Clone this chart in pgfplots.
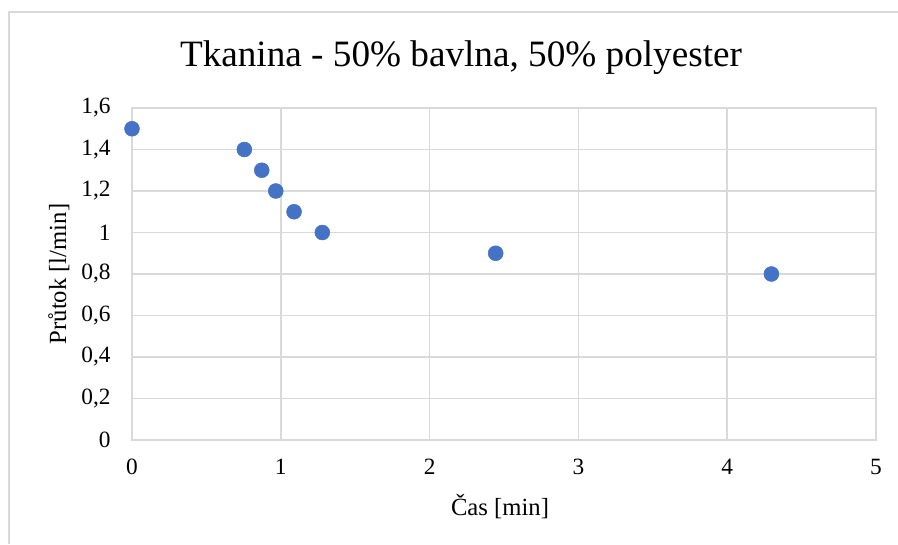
\documentclass[border=0pt]{standalone}
\usepackage{fontspec}
\setmainfont{Liberation Serif}
\usepackage{pgfplots}
\pgfplotsset{compat=1.18}
\definecolor{gridc}{RGB}{217,217,217}
\definecolor{ptc}{RGB}{68,114,196}
\begin{document}
\begin{tikzpicture}[x=1pt,y=1pt]
\path[use as bounding box] (0,0) rectangle (673.5,408);
\draw[gridc, line width=1.2pt] (6.75,0) -- (6.75,399) -- (673.5,399);
\begin{axis}[
  at={(99pt,78pt)}, anchor=south west,
  scale only axis, width=558pt, height=249pt,
  xmin=0, xmax=5, ymin=0, ymax=1.6,
  xtick={0,1,2,3,4,5}, ytick={0,0.2,0.4,0.6,0.8,1,1.2,1.4,1.6},
  grid=major, major grid style={gridc, line width=1.2pt},
  axis line style={gridc, line width=1.2pt},
  tick style={draw=none},
  /pgf/number format/assume math mode=true,
  /pgf/number format/use comma,
  /pgf/number format/fixed,
  ticklabel style={font=\fontsize{17.5}{20}\selectfont},
  yticklabel style={xshift=-12.5pt},
  xticklabel style={yshift=-11pt},
  clip=false,
]
\addplot[only marks, mark=*, mark size=5.6pt, mark options={fill=ptc, draw=ptc}, color=ptc]
coordinates {(0,1.5) (0.755,1.4) (0.872,1.3) (0.966,1.2) (1.089,1.1) (1.279,1.0) (2.444,0.9) (4.297,0.8)};
\end{axis}
\node[anchor=base, font=\fontsize{27.9}{32}\selectfont] at (345.75,358) {Tkanina - 50\% bavlna, 50\% polyester};
\node[anchor=base, font=\fontsize{18.5}{22}\selectfont] at (375,21.75) {Čas [min]};
\node[anchor=base, rotate=90, font=\fontsize{18.5}{22}\selectfont] at (49.5,202.5) {Průtok [l/min]};
\end{tikzpicture}
\end{document}
